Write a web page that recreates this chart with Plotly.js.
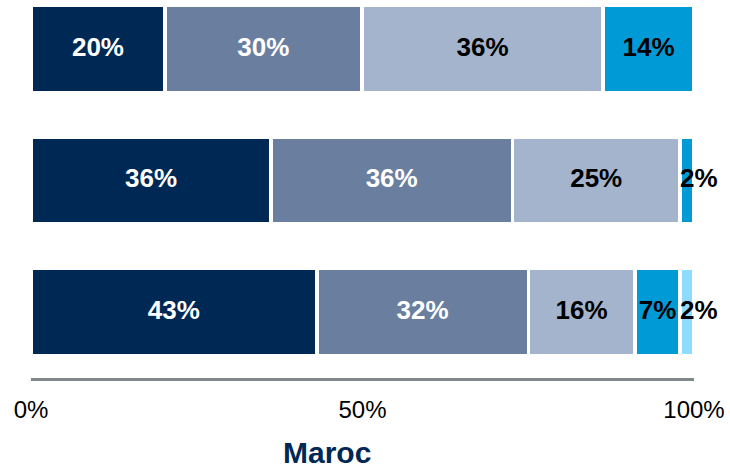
<!DOCTYPE html>
<html>
<head>
<meta charset="utf-8">
<script src="https://cdn.plot.ly/plotly-3.0.1.min.js"></script>
<style>html,body{margin:0;padding:0;background:#fff}#chart{width:730px;height:471px}</style>
</head>
<body>
<div id="chart"></div>
<script>
// rows from bottom to top
var rows = ['Ligne 3', 'Ligne 2', 'Ligne 1'];
var serie1 = [43.1, 36.2, 20.2];
var serie2 = [31.9, 36.4, 29.7];
var serie3 = [16.1, 25.3, 36.4];
var serie4 = [6.8, 2.1, 13.7];
var serie5 = [2.1, 0, 0];
var seriesNames = ['Série 1', 'Série 2', 'Série 3', 'Série 4', 'Série 5'];
var xTickVals = [0, 50, 100];
var xTickText = ['0%', '50%', '100%'];
var chartTitle = 'Maroc';

var allSeries = [serie1, serie2, serie3, serie4, serie5];
var colors = ['#002855', '#6a7f9f', '#a3b4cc', '#009bd7', '#8edbff'];
var textColors = ['#ffffff', '#ffffff', '#000000', '#000000', '#000000'];
var font = 'Arial, "Liberation Sans", sans-serif';

var traces = [];
allSeries.forEach(function (s, i) {
  traces.push({
    type: 'bar', orientation: 'h', y: rows, x: s, name: seriesNames[i],
    marker: {color: colors[i], line: {color: '#ffffff', width: 3.5}},
    width: 0.665, textposition: 'none', hoverinfo: 'x+name', showlegend: false
  });
});

// labels
var lx = [], ly = [], lt = [], lp = [], lc = [];
var cum = rows.map(function () { return 0; });
allSeries.forEach(function (s, i) {
  s.forEach(function (v, r) {
    if (v > 0) {
      var small = v < 3;
      lx.push(small ? cum[r] : cum[r] + v / 2);
      ly.push(rows[r]);
      lt.push(Math.round(v) + '%');
      lp.push(small ? 'middle right' : 'middle center');
      lc.push(textColors[i]);
    }
    cum[r] += v;
  });
});
traces.push({
  type: 'scatter', mode: 'text', x: lx, y: ly, text: lt, textposition: lp,
  textfont: {family: font, size: 26, color: lc, weight: 'bold'},
  cliponaxis: false, hoverinfo: 'skip', showlegend: false
});

var layout = {
  width: 730, height: 471,
  margin: {l: 30.5, r: 35.5, t: 0, b: 93},
  barmode: 'stack',
  paper_bgcolor: '#ffffff', plot_bgcolor: '#ffffff',
  font: {family: font},
  xaxis: {
    range: [0, 100], tickvals: xTickVals, ticktext: xTickText,
    showgrid: false, zeroline: false, showline: true, linecolor: '#7f8888', linewidth: 3,
    ticks: 'outside', ticklen: 8, tickcolor: 'rgba(0,0,0,0)',
    tickfont: {family: font, size: 24, color: '#000000'}, fixedrange: true
  },
  yaxis: {
    type: 'category', categoryorder: 'array', categoryarray: rows,
    range: [-0.502, 2.373], showticklabels: false, showgrid: false,
    zeroline: false, showline: false, ticks: '', fixedrange: true
  },
  annotations: [{
    text: '<b>' + chartTitle + '</b>', xref: 'paper', yref: 'paper',
    x: 0.447, y: -0.244, xanchor: 'center', yanchor: 'bottom', showarrow: false,
    borderpad: 0, font: {family: font, size: 30, color: '#002855'}
  }]
};

Plotly.newPlot('chart', traces, layout, {displayModeBar: false, staticPlot: true});
</script>
</body>
</html>
